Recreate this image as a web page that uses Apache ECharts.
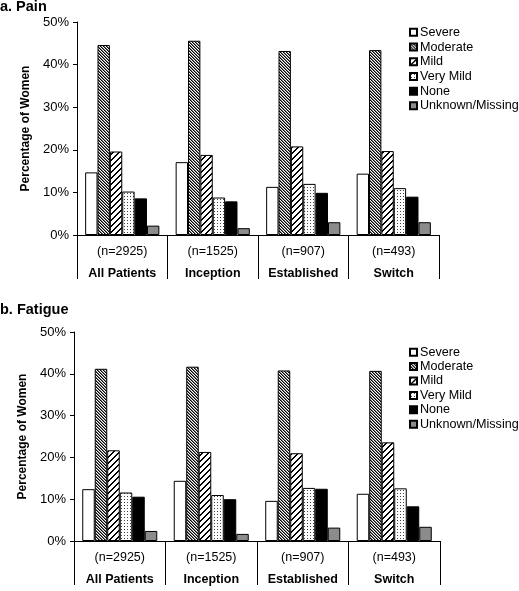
<!DOCTYPE html>
<html><head><meta charset="utf-8">
<script src="https://cdn.jsdelivr.net/npm/echarts@6/dist/echarts.min.js"></script>
<style>html,body{margin:0;padding:0;background:#fff}#c{width:519px;height:591px}</style>
</head><body><div id="c"></div>
<script>
const categories = ['All Patients', 'Inception', 'Established', 'Switch'];
const sampleSizes = ['(n=2925)', '(n=1525)', '(n=907)', '(n=493)'];
const levels = ['Severe', 'Moderate', 'Mild', 'Very Mild', 'None', 'Unknown/Missing'];
const panelTitles = ['a. Pain', 'b. Fatigue'];
const yAxisName = 'Percentage of Women';
const yMin = 0, yMax = 50, yStep = 10;

const painSevere = [14.7, 17.1, 11.3, 14.4];
const painModerate = [44.6, 45.6, 43.2, 43.4];
const painMild = [19.6, 18.8, 20.8, 19.7];
const painVeryMild = [10.2, 8.8, 12.0, 11.0];
const painNone = [8.6, 7.9, 9.9, 9.0];
const painMissing = [2.2, 1.6, 3.0, 3.0];

const fatigueSevere = [12.4, 14.4, 9.6, 11.3];
const fatigueModerate = [41.2, 41.7, 40.8, 40.7];
const fatigueMild = [21.7, 21.3, 21.0, 23.6];
const fatigueVeryMild = [11.6, 11.0, 12.7, 12.6];
const fatigueNone = [10.6, 10.0, 12.5, 8.3];
const fatigueMissing = [2.4, 1.7, 3.2, 3.4];

const painData = [painSevere, painModerate, painMild, painVeryMild, painNone, painMissing];
const fatigueData = [fatigueSevere, fatigueModerate, fatigueMild, fatigueVeryMild, fatigueNone, fatigueMissing];

function pattern(n, fn) {
  const c = document.createElement('canvas');
  c.width = n; c.height = n;
  const g = c.getContext('2d');
  g.fillStyle = '#fff'; g.fillRect(0, 0, n, n);
  for (let y = 0; y < n; y++) for (let x = 0; x < n; x++) {
    const col = fn(x, y);
    if (col) { g.fillStyle = col; g.fillRect(x, y, 1, 1); }
  }
  return { image: c, repeat: 'repeat' };
}
const fills = [
  '#ffffff',
  pattern(3, (x, y) => { const d = (x - y + 6) % 3; return d === 0 ? '#000' : (d === 1 ? '#777' : null); }),
  pattern(6, (x, y) => ((x + y) % 6) < 2 ? '#000' : null),
  pattern(3, (x, y) => (x === 1 && (y % 3) === 1) ? '#444' : null),
  '#000000',
  '#8c8c8c'
];

const font = 'Liberation Sans, Arial, sans-serif';
const grids = [
  { left: 77, top: 22, width: 362, height: 213 },
  { left: 74, top: 332, width: 366, height: 214 }
];
const legendTops = [25, 345];
const legendLH = [14.7, 14.4];
const titleTops = [-1, 302];

const option = {
  animation: false,
  backgroundColor: '#fff',
  textStyle: { fontFamily: font },
  title: panelTitles.map((t, i) => ({
    text: t, left: 0, top: titleTops[i], padding: 0,
    textStyle: { fontFamily: font, fontSize: 14.5, fontWeight: 'bold', color: '#000' }
  })),
  grid: grids,
  legend: [0, 1].map(i => ({
    data: levels, orient: 'vertical', left: 409, top: legendTops[i], padding: 0,
    itemWidth: 7, itemHeight: 7, itemGap: 0, icon: 'rect',
    selectedMode: false,
    textStyle: { fontFamily: font, fontSize: 12.6, color: '#000', lineHeight: legendLH[i], padding: [0, 0, 0, -2] }
  })),
  xAxis: [0, 1].map(i => ({
    type: 'category', gridIndex: i, data: categories,
    axisLine: { show: true, lineStyle: { color: '#000', width: 1 } },
    axisTick: { show: true, length: 44, interval: 0, lineStyle: { color: '#000', width: 1 } },
    axisLabel: {
      interval: 0, margin: 6, color: '#000', fontFamily: font, fontSize: 12.5, lineHeight: 22,
      formatter: (v, idx) => sampleSizes[idx] + '\n{b|' + v + '}',
      rich: { b: { fontFamily: font, fontWeight: 'bold', fontSize: 12.5, lineHeight: 22, color: '#000' } }
    },
    splitLine: { show: false }
  })),
  yAxis: [0, 1].map(i => ({
    type: 'value', gridIndex: i, min: yMin, max: yMax, interval: yStep,
    name: yAxisName, nameLocation: 'middle', nameGap: 42, nameRotate: 90,
    nameTextStyle: { fontFamily: font, fontSize: 12, fontWeight: 'bold', color: '#000' },
    axisLine: { show: true, lineStyle: { color: '#000', width: 1 } },
    axisTick: { show: true, length: 4, lineStyle: { color: '#000' } },
    axisLabel: { formatter: '{value}%', color: '#000', fontFamily: font, fontSize: 13, margin: 8 },
    splitLine: { show: false }
  })),
  series: []
};
[painData, fatigueData].forEach((data, gi) => {
  levels.forEach((lv, k) => {
    option.series.push({
      type: 'bar', name: lv, xAxisIndex: gi, yAxisIndex: gi,
      data: data[k], barGap: '0%', barCategoryGap: '18%',
      itemStyle: { color: fills[k], borderColor: '#000', borderWidth: 1 },
      emphasis: { disabled: true }
    });
  });
});
const chart = echarts.init(document.getElementById('c'), null, { renderer: 'canvas' });
chart.setOption(option);
</script>
</body></html>
